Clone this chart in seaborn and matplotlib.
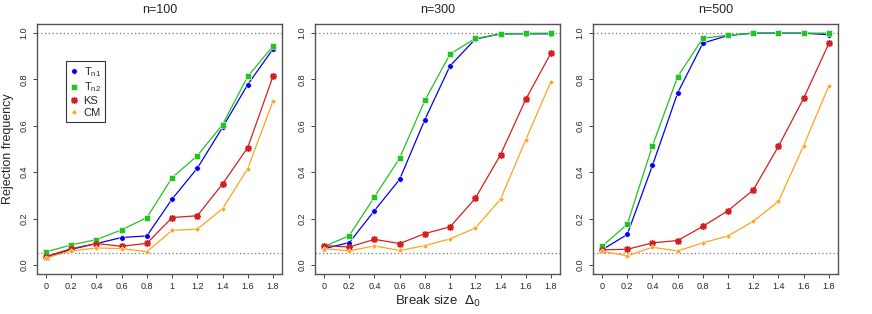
import numpy as np
import pandas as pd
import seaborn as sns
import matplotlib.pyplot as plt

# ---- DATA ----
breaks = [0, 0.2, 0.4, 0.6, 0.8, 1.0, 1.2, 1.4, 1.6, 1.8]
break_labels = ["0", "0.2", "0.4", "0.6", "0.8", "1", "1.2", "1.4", "1.6", "1.8"]
sample_sizes = ["n=100", "n=300", "n=500"]
tests = ["Tn1", "Tn2", "KS", "CM"]

# n=100
tn1_100 = [0.034, 0.067, 0.092, 0.118, 0.125, 0.284, 0.417, 0.593, 0.778, 0.931]
tn2_100 = [0.056, 0.086, 0.109, 0.151, 0.204, 0.376, 0.471, 0.605, 0.813, 0.944]
ks_100 = [0.036, 0.070, 0.092, 0.080, 0.093, 0.204, 0.212, 0.349, 0.506, 0.813]
cm_100 = [0.030, 0.060, 0.073, 0.070, 0.057, 0.149, 0.154, 0.242, 0.415, 0.706]

# n=300
tn1_300 = [0.070, 0.096, 0.234, 0.369, 0.627, 0.859, 0.974, 0.997, 0.997, 0.997]
tn2_300 = [0.079, 0.126, 0.293, 0.461, 0.710, 0.910, 0.977, 0.996, 0.999, 1.000]
ks_300 = [0.083, 0.077, 0.110, 0.092, 0.135, 0.164, 0.287, 0.475, 0.714, 0.914]
cm_300 = [0.070, 0.060, 0.082, 0.062, 0.083, 0.112, 0.159, 0.283, 0.539, 0.791]

# n=500
tn1_500 = [0.065, 0.131, 0.429, 0.742, 0.957, 0.990, 1.000, 1.000, 1.000, 0.993]
tn2_500 = [0.080, 0.175, 0.514, 0.812, 0.978, 0.991, 1.000, 1.000, 1.000, 1.000]
ks_500 = [0.065, 0.067, 0.095, 0.105, 0.166, 0.234, 0.323, 0.512, 0.719, 0.956]
cm_500 = [0.059, 0.039, 0.076, 0.060, 0.095, 0.125, 0.188, 0.274, 0.515, 0.773]

nominal = 0.05

results = {
    "n=100": [tn1_100, tn2_100, ks_100, cm_100],
    "n=300": [tn1_300, tn2_300, ks_300, cm_300],
    "n=500": [tn1_500, tn2_500, ks_500, cm_500],
}

rows = []
for n in sample_sizes:
    for t, vals in zip(tests, results[n]):
        for b, v in zip(breaks, vals):
            rows.append({"n": n, "test": t, "break": b, "rej": v})
df = pd.DataFrame(rows)

# ---- PLOT ----
sns.set_style("ticks")
plt.rcParams["font.family"] = ["Liberation Sans", "DejaVu Sans"]

palette = {"Tn1": "#0000EE", "Tn2": "#22C322", "KS": "#D42020", "CM": "#FFA31A"}
markers = {"Tn1": "o", "Tn2": "s", "KS": (8, 2, 0), "CM": "D"}
msizes = {"Tn1": 4.0, "Tn2": 4.0, "KS": 5.0, "CM": 2.8}
labels = {"Tn1": r"T$_{\mathregular{n1}}$", "Tn2": r"T$_{\mathregular{n2}}$",
          "KS": "KS", "CM": "CM"}

fig = plt.figure(figsize=(8.72, 3.14), dpi=100)
lefts = [0.0424, 0.3612, 0.6800]
axes = [fig.add_axes([l, 0.127, 0.281, 0.797]) for l in lefts]

for ax, n in zip(axes, sample_sizes):
    sub = df[df["n"] == n]
    ax.axhline(1.0, color="#777777", ls=(0, (1, 2)), lw=0.9, zorder=1)
    ax.axhline(nominal, color="#777777", ls=(0, (1, 2)), lw=0.9, zorder=1)
    for t in tests:
        d = sub[sub["test"] == t]
        sns.lineplot(data=d, x="break", y="rej", ax=ax, color=palette[t],
                     lw=0.9, marker=markers[t], markersize=msizes[t],
                     markeredgecolor=palette[t] if t == "KS" else "white",
                     markeredgewidth=1.0 if t == "KS" else 0.4,
                     label=labels[t], legend=False, zorder=3)
    ax.set_xlim(-0.072, 1.872)
    ax.set_ylim(-0.04, 1.04)
    ax.set_xticks(breaks)
    ax.set_xticklabels(break_labels, fontsize=6.5)
    ax.set_yticks([0, 0.2, 0.4, 0.6, 0.8, 1.0])
    ax.set_yticklabels(["0.0", "0.2", "0.4", "0.6", "0.8", "1.0"], fontsize=6.5,
                       rotation=90, va="center")
    ax.tick_params(length=3, width=0.7, color="#444444", pad=3)
    for sp in ax.spines.values():
        sp.set_color("#555555")
        sp.set_linewidth(1.0)
    ax.set_title(n, fontsize=9, pad=8)
    ax.set_xlabel("")
    ax.set_ylabel("")

axes[0].set_ylabel("Rejection frequency", fontsize=9, labelpad=4)
axes[1].set_xlabel(r"Break size  $\Delta_0$", fontsize=9.5, labelpad=2)

h, l = axes[0].get_legend_handles_labels()
leg = axes[0].legend(h, l, loc="upper left", bbox_to_anchor=(0.095, 0.875),
                     fontsize=8, frameon=True, fancybox=False, edgecolor="black",
                     handlelength=0.6, handletextpad=0.6, borderpad=0.4,
                     labelspacing=0.15)
leg.get_frame().set_linewidth(0.8)
for line in leg.get_lines():
    line.set_linestyle("none")

fig.savefig("out.png", dpi=100)
